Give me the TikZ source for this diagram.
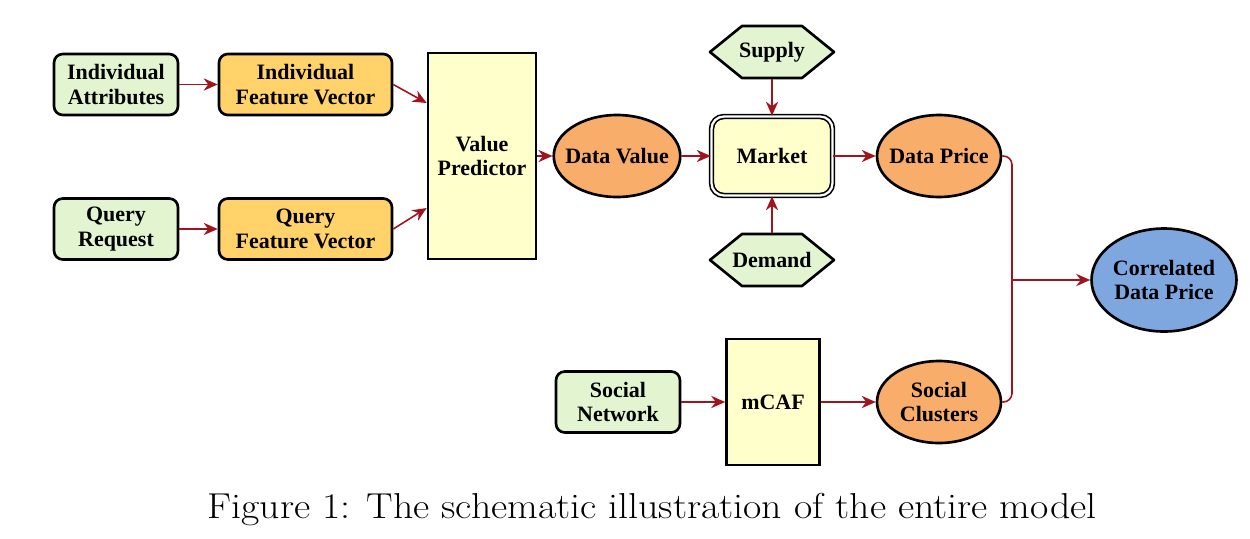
\documentclass[tikz,border=0pt]{standalone}
\usepackage{graphicx}
\usepackage{fontspec}
\newfontfamily\nodefont{Liberation Serif}
\usetikzlibrary{shapes.geometric,arrows.meta}
\definecolor{boxgreen}{RGB}{226,245,208}
\definecolor{boxgold}{RGB}{255,210,106}
\definecolor{boxyellow}{RGB}{255,255,204}
\definecolor{ovalorange}{RGB}{248,173,106}
\definecolor{ovalblue}{RGB}{127,167,223}
\definecolor{linkred}{RGB}{160,20,30}
\begin{document}
\begin{tikzpicture}[x=0.02cm,y=-0.02cm,
    every node/.style={font=\nodefont\bfseries\fontsize{12.5}{14}\selectfont,align=center,line width=1.5pt,inner sep=1pt},
    inbox/.style={draw,rounded corners=5pt,fill=boxgreen,minimum width=2.48cm,minimum height=1.22cm},
    featbox/.style={draw,rounded corners=5pt,fill=boxgold,minimum width=3.46cm,minimum height=1.22cm},
    procbox/.style={draw,fill=boxyellow},
    oval/.style={draw,ellipse,fill=ovalorange,inner xsep=-4pt,minimum width=2.48cm,minimum height=1.64cm},
    hexa/.style={minimum width=2.48cm,minimum height=1.04cm},
    link/.style={draw=linkred,line width=0.9pt,-{Stealth[length=8pt,width=7pt]}}]

\useasboundingbox (0,0) rectangle (1250,538);

\node[inbox] (indattr) at (116,84.5) {Individual\\Attributes};
\node[featbox] (indfeat) at (305.5,84.5) {Individual\\Feature Vector};
\node[inbox] (query) at (116,229) {Query\\Request};
\node[featbox] (queryfeat) at (305.5,229) {Query\\Feature Vector};
\node[procbox,minimum width=2.16cm,minimum height=4.12cm] (predictor) at (482,156) {Value\\Predictor};

\node[oval] (value) at (617,156) {Data Value};
\node[draw,double,double distance=1.3pt,line width=0.9pt,rounded corners=7pt,fill=boxyellow,minimum width=2.42cm,minimum height=1.58cm] (market) at (772,156) {Market};

\foreach \name/\y/\txt in {supply/52/Supply, demand/260/Demand}{
  \draw[fill=boxgreen,line width=1.5pt,line join=round]
    (710,\y) -- (742,\y-26) -- (802,\y-26) -- (834,\y) -- (802,\y+26) -- (742,\y+26) -- cycle;
  \node[hexa] (\name) at (772,\y) {\txt};
}

\node[oval] (price) at (939,156) {Data Price};

\node[inbox] (social) at (618,402) {Social\\Network};
\node[procbox,minimum width=1.86cm,minimum height=2.52cm] (mcaf) at (773,402) {mCAF};
\node[oval] (clusters) at (939,402) {Social\\Clusters};

\node[draw,ellipse,fill=ovalblue,inner xsep=-2pt,minimum width=2.9cm,minimum height=2.06cm] (corr) at (1164,280) {Correlated\\Data Price};

\coordinate (merge) at (1012,280);

\draw[link] (indattr) -- (indfeat);
\draw[link] (query) -- (queryfeat);
\draw[link] (indfeat.east) -- ([yshift=1.06cm]predictor.west);
\draw[link] (queryfeat.east) -- ([yshift=-1.04cm]predictor.west);
\draw[link] (predictor) -- (value);
\draw[link] (value) -- (market);
\draw[link] (supply) -- (market);
\draw[link] (demand) -- (market);
\draw[link] (market) -- (price);
\draw[link] (social) -- (mcaf);
\draw[link] (mcaf) -- (clusters);

\draw[linkred,line width=0.9pt,rounded corners=5pt] (price.east) -| (merge) |- (clusters.east);
\draw[link] (merge) -- (corr);

\node[font=\fontsize{20.5}{24}\selectfont] (caption) at (652,510) {\scalebox{1.105}[1]{Figure 1: The schematic illustration of the entire model}};

\end{tikzpicture}
\end{document}
